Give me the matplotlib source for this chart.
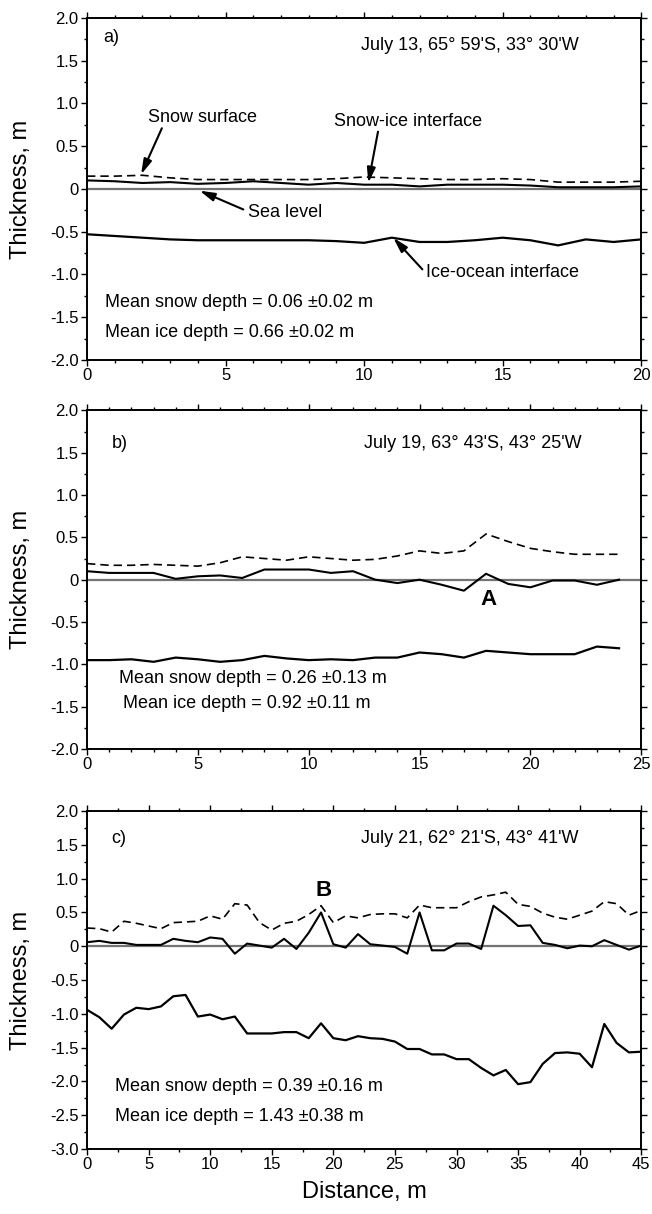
import numpy as np
import matplotlib
matplotlib.use("Agg")
import matplotlib.pyplot as plt
from matplotlib.ticker import MultipleLocator, FuncFormatter

plt.rcParams["font.family"] = ["Liberation Sans", "DejaVu Sans"]
plt.rcParams["axes.unicode_minus"] = False

# Panel a) July 13 -- 1 m spacing
dist_a = np.arange(0, 21)
snow_a = [0.15, 0.15, 0.16, 0.13, 0.11, 0.11, 0.11, 0.11, 0.11, 0.12, 0.14,
          0.13, 0.12, 0.11, 0.11, 0.12, 0.11, 0.08, 0.08, 0.08, 0.09]
ice_top_a = [0.10, 0.09, 0.07, 0.08, 0.06, 0.07, 0.09, 0.07, 0.05, 0.07, 0.05,
             0.05, 0.03, 0.05, 0.05, 0.05, 0.04, 0.02, 0.02, 0.02, 0.03]
ice_bot_a = [-0.53, -0.55, -0.57, -0.59, -0.60, -0.60, -0.60, -0.60, -0.60, -0.61, -0.63,
             -0.57, -0.62, -0.62, -0.60, -0.57, -0.60, -0.66, -0.59, -0.62, -0.59]

# Panel b) July 19
dist_b = np.arange(0, 25)
snow_b = [0.19, 0.17, 0.17, 0.18, 0.17, 0.16, 0.20, 0.27, 0.25, 0.23, 0.27, 0.25, 0.23,
          0.24, 0.28, 0.34, 0.31, 0.34, 0.54, 0.45, 0.37, 0.33, 0.30, 0.30, 0.30]
ice_top_b = [0.10, 0.08, 0.08, 0.08, 0.01, 0.04, 0.05, 0.02, 0.12, 0.12, 0.12, 0.08, 0.10,
             0.00, -0.04, 0.00, -0.06, -0.13, 0.07, -0.05, -0.09, -0.01, -0.01, -0.06, 0.00]
ice_bot_b = [-0.95, -0.95, -0.94, -0.97, -0.92, -0.94, -0.97, -0.95, -0.90, -0.93, -0.95, -0.94, -0.95,
             -0.92, -0.92, -0.86, -0.88, -0.92, -0.84, -0.86, -0.88, -0.88, -0.88, -0.79, -0.81]

# Panel c) July 21
dist_c = np.arange(0, 46)
snow_c = [0.27, 0.26, 0.21, 0.37, 0.34, 0.30, 0.26, 0.35, 0.36, 0.37, 0.45, 0.40, 0.63, 0.61,
          0.35, 0.24, 0.34, 0.37, 0.47, 0.60, 0.35, 0.45, 0.42, 0.47, 0.48, 0.48, 0.42, 0.61,
          0.57, 0.57, 0.57, 0.66, 0.73, 0.76, 0.80, 0.62, 0.59, 0.49, 0.43, 0.40, 0.46, 0.52,
          0.66, 0.63, 0.46, 0.53]
ice_top_c = [0.06, 0.08, 0.05, 0.05, 0.02, 0.02, 0.02, 0.11, 0.08, 0.06, 0.13, 0.11, -0.11, 0.04,
             0.01, -0.02, 0.11, -0.04, 0.20, 0.50, 0.03, -0.02, 0.18, 0.03, 0.01, -0.01, -0.11, 0.50,
             -0.06, -0.06, 0.04, 0.04, -0.04, 0.60, 0.46, 0.30, 0.31, 0.05, 0.02, -0.03, 0.01, 0.00,
             0.09, 0.02, -0.05, 0.01]
ice_bot_c = [-0.94, -1.05, -1.22, -1.01, -0.91, -0.93, -0.89, -0.74, -0.72, -1.04, -1.01, -1.08,
             -1.04, -1.29, -1.29, -1.29, -1.27, -1.27, -1.36, -1.14, -1.36, -1.39, -1.33, -1.36,
             -1.37, -1.41, -1.52, -1.52, -1.60, -1.60, -1.67, -1.67, -1.80, -1.91, -1.83, -2.04,
             -2.01, -1.74, -1.58, -1.57, -1.59, -1.79, -1.15, -1.43, -1.57, -1.56]

labels = ["a)", "b)", "c)"]
stations = ["July 13, 65\u00b0 59'S, 33\u00b0 30'W",
            "July 19, 63\u00b0 43'S, 43\u00b0 25'W",
            "July 21, 62\u00b0 21'S, 43\u00b0 41'W"]
snow_means = ["Mean snow depth = 0.06 \u00b10.02 m",
              "Mean snow depth = 0.26 \u00b10.13 m",
              "Mean snow depth = 0.39 \u00b10.16 m"]
ice_means = ["Mean ice depth = 0.66 \u00b10.02 m",
             "Mean ice depth = 0.92 \u00b10.11 m",
             "Mean ice depth = 1.43 \u00b10.38 m"]
xmax = [20, 25, 45]
ymin = [-2.0, -2.0, -3.0]
xminor = [1, 1, 2.5]

fig = plt.figure(figsize=(6.52, 12.14), dpi=100)
left, width = 0.1335, 0.850
axes = [fig.add_axes([left, 0.7035, width, 0.2817]),
        fig.add_axes([left, 0.383, width, 0.279]),
        fig.add_axes([left, 0.0535, width, 0.2784])]

series = [(dist_a, snow_a, ice_top_a, ice_bot_a),
          (dist_b, snow_b, ice_top_b, ice_bot_b),
          (dist_c, snow_c, ice_top_c, ice_bot_c)]

fmt = FuncFormatter(lambda v, p: "0" if abs(v) < 1e-9 else f"{v:.1f}")

for i, (ax, (d, s, t, b)) in enumerate(zip(axes, series)):
    ax.axhline(0, color="0.45", lw=1.6, zorder=1)
    ax.plot(d, s, color="k", lw=1.2, ls=(0, (5, 3)), zorder=3)
    ax.plot(d, t, color="k", lw=1.5, zorder=3)
    ax.plot(d, b, color="k", lw=1.6, zorder=3)

    ax.set_xlim(0, xmax[i])
    ax.set_ylim(ymin[i], 2.0)
    ax.xaxis.set_major_locator(MultipleLocator(5))
    ax.xaxis.set_minor_locator(MultipleLocator(xminor[i]))
    ax.yaxis.set_major_locator(MultipleLocator(0.5))
    ax.yaxis.set_minor_locator(MultipleLocator(0.25))
    ax.yaxis.set_major_formatter(fmt)
    ax.tick_params(which="both", direction="out", top=True, right=True,
                   labelsize=12, width=1.0, pad=2)
    ax.tick_params(which="major", length=4)
    ax.tick_params(which="minor", length=2.5)
    for sp in ax.spines.values():
        sp.set_linewidth(1.4)
    ax.set_ylabel("Thickness, m", fontsize=17)
    ax.yaxis.set_label_coords(-0.10, 0.5)

axa, axb, axc = axes

# text annotations
axa.text(0.6, 1.77, labels[0], fontsize=13, va="center")
axa.text(13.8, 1.68, stations[0], fontsize=13, ha="center", va="center")
axa.text(0.65, -1.33, snow_means[0], fontsize=13, va="center")
axa.text(0.65, -1.68, ice_means[0], fontsize=13, va="center")

arrow = dict(arrowstyle="-|>,head_length=0.9,head_width=0.25", color="k", lw=1.5,
             shrinkA=0, shrinkB=0)
axa.text(2.2, 0.83, "Snow surface", fontsize=13, va="center")
axa.annotate("", xy=(1.95, 0.17), xytext=(2.7, 0.71), arrowprops=arrow)
axa.text(8.9, 0.79, "Snow-ice interface", fontsize=13, va="center")
axa.annotate("", xy=(10.15, 0.07), xytext=(10.5, 0.67), arrowprops=arrow)
axa.text(5.8, -0.28, "Sea level", fontsize=13, va="center")
axa.annotate("", xy=(4.06, -0.02), xytext=(5.64, -0.24), arrowprops=arrow)
axa.text(12.25, -0.98, "Ice-ocean interface", fontsize=13, va="center")
axa.annotate("", xy=(11.05, -0.57), xytext=(12.1, -0.94), arrowprops=arrow)

axb.text(1.1, 1.61, labels[1], fontsize=13, va="center")
axb.text(17.4, 1.61, stations[1], fontsize=13, ha="center", va="center")
axb.text(1.45, -1.17, snow_means[1], fontsize=13, va="center")
axb.text(1.62, -1.46, ice_means[1], fontsize=13, va="center")
axb.text(18.1, -0.23, "A", fontsize=16, fontweight="bold", ha="center", va="center")

axc.text(2.0, 1.59, labels[2], fontsize=13, va="center")
axc.text(31.1, 1.59, stations[2], fontsize=13, ha="center", va="center")
axc.text(2.25, -2.07, snow_means[2], fontsize=13, va="center")
axc.text(2.25, -2.52, ice_means[2], fontsize=13, va="center")
axc.text(19.2, 0.82, "B", fontsize=16, fontweight="bold", ha="center", va="center")
axc.set_xlabel("Distance, m", fontsize=17, labelpad=6)

plt.savefig("out.png", dpi=100)
print("Saved: out.png")
